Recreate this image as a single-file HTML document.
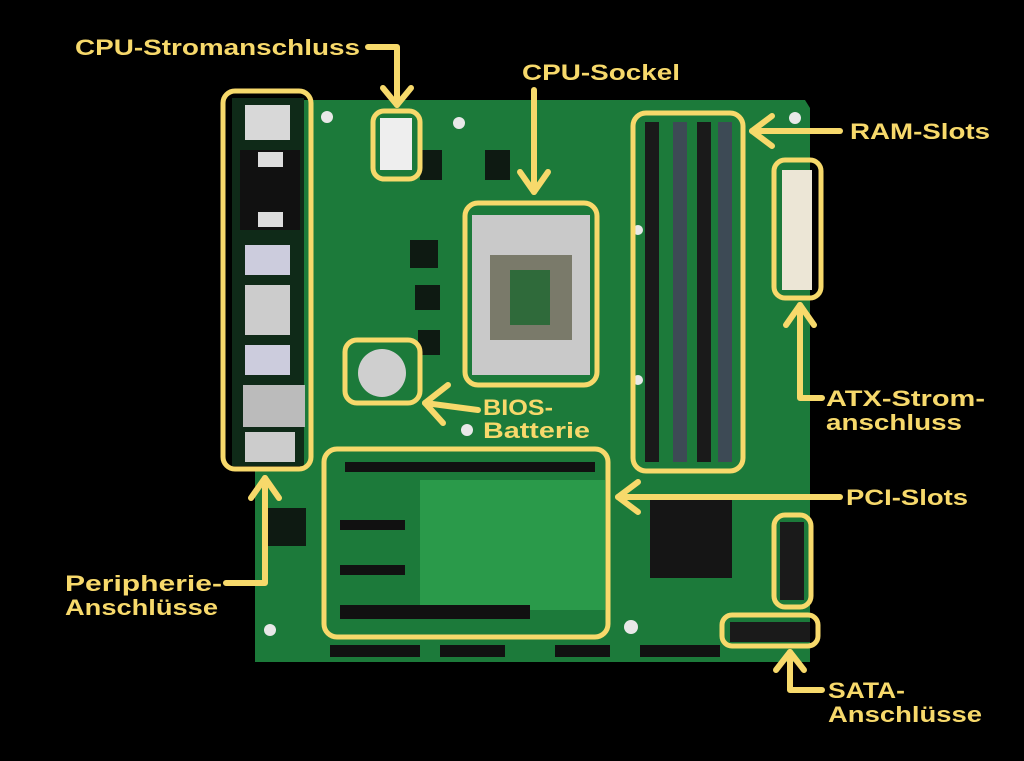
<!DOCTYPE html>
<html><head><meta charset="utf-8"><style>
html,body{margin:0;padding:0;background:#000;}
body{width:1024px;height:761px;overflow:hidden;position:relative;font-family:"Liberation Sans",sans-serif;}
svg{position:absolute;left:0;top:0;}
</style></head><body>
<svg width="1024" height="761" viewBox="0 0 1024 761">
<rect width="1024" height="761" fill="#000"/>
<path d="M300 100 L805 100 L810 108 L810 662 L255 662 L255 470 L300 470 Z" fill="#1c7a3a"/>
<rect x="232" y="98" width="72" height="368" fill="#0f2a18"/>
<rect x="245" y="105" width="45" height="35" fill="#d8d8d8"/>
<rect x="240" y="150" width="60" height="80" fill="#111"/>
<rect x="258" y="152" width="25" height="15" fill="#ddd"/>
<rect x="258" y="212" width="25" height="15" fill="#ddd"/>
<rect x="245" y="245" width="45" height="30" fill="#ccd"/>
<rect x="245" y="285" width="45" height="50" fill="#ccc"/>
<rect x="245" y="345" width="45" height="30" fill="#ccd"/>
<rect x="243" y="385" width="62" height="42" fill="#bbb"/>
<rect x="245" y="432" width="50" height="30" fill="#ccc"/>
<g fill="#0e1a12">
<rect x="420" y="150" width="22" height="30"/><rect x="485" y="150" width="25" height="30"/>
<rect x="410" y="240" width="28" height="28"/><rect x="415" y="285" width="25" height="25"/>
<rect x="418" y="330" width="22" height="25"/><rect x="268" y="508" width="38" height="38"/>
<rect x="425" y="530" width="35" height="35"/>
</g>
<g fill="#e8e8e8"><circle cx="327" cy="117" r="6"/><circle cx="459" cy="123" r="6"/><circle cx="579" cy="228" r="5"/><circle cx="638" cy="230" r="5"/><circle cx="638" cy="380" r="5"/><circle cx="467" cy="430" r="6"/><circle cx="795" cy="118" r="6"/><circle cx="631" cy="627" r="7"/><circle cx="270" cy="630" r="6"/></g>
<rect x="380" y="118" width="32" height="52" fill="#eee"/>
<rect x="472" y="215" width="118" height="160" fill="#c9c9c9"/>
<rect x="490" y="255" width="82" height="85" fill="#7a7a6a"/>
<rect x="510" y="270" width="40" height="55" fill="#2f6a3a"/>
<circle cx="382" cy="373" r="24" fill="#cfcfcf"/>
<g fill="#1a1a1a">
<rect x="645" y="122" width="14" height="340"/><rect x="673" y="122" width="14" height="340" fill="#3d4a55"/>
<rect x="697" y="122" width="14" height="340"/><rect x="718" y="122" width="14" height="340" fill="#3d4a55"/>
</g>
<rect x="782" y="170" width="30" height="120" fill="#ece6d6"/>
<rect x="420" y="480" width="185" height="130" fill="#2a9a4a"/>
<rect x="345" y="462" width="250" height="10" fill="#111"/>
<rect x="340" y="520" width="65" height="10" fill="#111"/>
<rect x="340" y="565" width="65" height="10" fill="#111"/>
<rect x="340" y="605" width="190" height="14" fill="#111"/>
<rect x="650" y="498" width="82" height="80" fill="#151515"/>
<rect x="780" y="522" width="24" height="78" fill="#1a1a1a"/>
<rect x="730" y="622" width="80" height="20" fill="#1a1a1a"/>
<g fill="#111"><rect x="330" y="645" width="90" height="12"/><rect x="440" y="645" width="65" height="12"/><rect x="555" y="645" width="55" height="12"/><rect x="640" y="645" width="80" height="12"/></g>

<g fill="none" stroke="#f7d96b" stroke-width="5">
<rect x="223" y="91" width="88" height="378" rx="12"/>
<rect x="373" y="111" width="47" height="68" rx="11"/>
<rect x="465" y="203" width="132" height="182" rx="13"/>
<rect x="633" y="113" width="110" height="358" rx="13"/>
<rect x="774" y="160" width="47" height="138" rx="11"/>
<rect x="345" y="340" width="75" height="63" rx="12"/>
<rect x="324" y="449" width="284" height="188" rx="13"/>
<rect x="774" y="515" width="37" height="92" rx="11"/>
<rect x="722" y="615" width="96" height="31" rx="10"/>
</g>
<g fill="none" stroke="#f7d96b" stroke-width="6" stroke-linecap="round" stroke-linejoin="round">
<path d="M368 47 L397 47 L397 105"/><path d="M383 88 L397 105 L411 88"/>
<path d="M534 90 L534 192"/><path d="M520 172 L534 192 L548 172"/>
<path d="M840 131 L752 131"/><path d="M772 116 L752 131 L772 146"/>
<path d="M822 398 L800 398 L800 305"/><path d="M786 325 L800 305 L814 325"/>
<path d="M478 410 L425 403"/><path d="M448 385 L425 403 L443 423"/>
<path d="M840 497 L618 497"/><path d="M638 482 L618 497 L638 512"/>
<path d="M226 583 L265 583 L265 478"/><path d="M251 498 L265 478 L279 498"/>
<path d="M822 690 L790 690 L790 652"/><path d="M776 670 L790 652 L804 670"/>
</g>
<g fill="#f7d96b" font-family="Liberation Sans, sans-serif" font-weight="bold" font-size="22" lengthAdjust="spacingAndGlyphs">
<text x="75" y="55" textLength="285" lengthAdjust="spacingAndGlyphs">CPU-Stromanschluss</text>
<text x="522" y="80" textLength="158" lengthAdjust="spacingAndGlyphs">CPU-Sockel</text>
<text x="850" y="139" textLength="140" lengthAdjust="spacingAndGlyphs">RAM-Slots</text>
<text x="826" y="406" textLength="159" lengthAdjust="spacingAndGlyphs">ATX-Strom-</text>
<text x="826" y="430" textLength="136" lengthAdjust="spacingAndGlyphs">anschluss</text>
<text x="483" y="415" textLength="70" lengthAdjust="spacingAndGlyphs">BIOS-</text>
<text x="483" y="438" textLength="107" lengthAdjust="spacingAndGlyphs">Batterie</text>
<text x="846" y="505" textLength="122" lengthAdjust="spacingAndGlyphs">PCI-Slots</text>
<text x="65" y="591" textLength="157" lengthAdjust="spacingAndGlyphs">Peripherie-</text>
<text x="65" y="615" textLength="153" lengthAdjust="spacingAndGlyphs">Anschlüsse</text>
<text x="828" y="698" textLength="77" lengthAdjust="spacingAndGlyphs">SATA-</text>
<text x="828" y="722" textLength="154" lengthAdjust="spacingAndGlyphs">Anschlüsse</text>
</g>
</svg>
</body></html>
